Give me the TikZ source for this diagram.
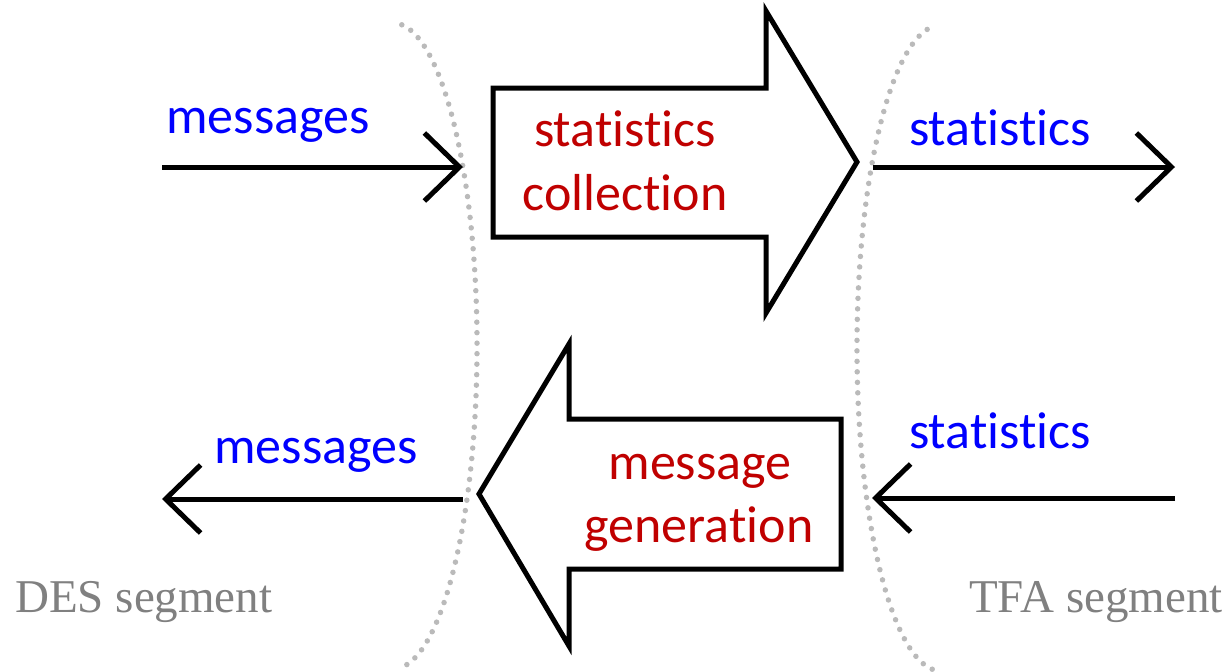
\documentclass[tikz,border=0pt]{standalone}
\usepackage{fontspec}
\setmainfont{Carlito}[Ligatures=NoCommon]
\newfontfamily\segfont{Liberation Serif}
\usetikzlibrary{arrows.meta}
\definecolor{msgblue}{HTML}{0000FF}
\definecolor{procred}{HTML}{C00000}
\definecolor{seggray}{HTML}{808080}
\definecolor{dotgray}{HTML}{BABABA}
\begin{document}
\begin{tikzpicture}[x=1pt,y=-1pt,
  flow/.style={line width=5pt,-{Straight Barb[length=35pt,width=68pt]}},
  bigarrow/.style={draw,line width=5pt,line join=miter,fill=white},
  datalabel/.style={text=msgblue,font=\fontsize{52}{62}\selectfont,anchor=base,inner sep=0pt},
  proclabel/.style={text=procred,font=\fontsize{52}{64}\selectfont,anchor=base,inner sep=0pt},
  seglabel/.style={text=seggray,font=\segfont\fontsize{47}{56}\selectfont,inner sep=0pt},
  boundary/.style={draw=dotgray,line width=5.5pt,line cap=round,dash pattern=on 0pt off 10.5pt}]

% canvas
\useasboundingbox (0,0) rectangle (1229,672);

% segment boundaries (dotted elliptic arcs)
\draw[boundary] (401.8,24.8) arc[start angle=-84,end angle=84,x radius=84,y radius=323];
\draw[boundary] (932.2,669.2) arc[start angle=96,end angle=264,x radius=84,y radius=323];

% processing blocks
\draw[bigarrow] (493,88) -- (766,88) -- (766,11) -- (857,162) -- (766,313) -- (766,237) -- (493,237) -- cycle;
\draw[bigarrow] (841,419) -- (569,419) -- (569,344) -- (479,494) -- (569,646) -- (569,569) -- (841,569) -- cycle;

\node[proclabel] (collA) at (625,146) {statistics};
\node[proclabel] (collB) at (625,210) {collection};
\node[proclabel] (genA) at (700,479) {message};
\node[proclabel] (genB) at (699,542) {generation};

% data flows
\coordinate (msgInStart) at (162,167);
\coordinate (msgInEnd) at (463,167);
\coordinate (statOutStart) at (873,167);
\coordinate (statOutEnd) at (1175,167);
\coordinate (statInStart) at (1175,498);
\coordinate (statInEnd) at (872,498);
\coordinate (msgOutStart) at (463,499);
\coordinate (msgOutEnd) at (162,499);

\draw[flow] (msgInStart) -- (msgInEnd);
\draw[flow] (statOutStart) -- (statOutEnd);
\draw[flow] (statInStart) -- (statInEnd);
\draw[flow] (msgOutStart) -- (msgOutEnd);

\node[datalabel] (msgIn) at (268,133) {messages};
\node[datalabel] (statOut) at (1000,145) {statistics};
\node[datalabel] (statIn) at (1000,448) {statistics};
\node[datalabel] (msgOut) at (316,463) {messages};

% segment names
\node[seglabel,anchor=base west] (des) at (15,612) {DES segment};
\node[seglabel,anchor=base east] (tfa) at (1223,612) {TFA segment};
\end{tikzpicture}
\end{document}
